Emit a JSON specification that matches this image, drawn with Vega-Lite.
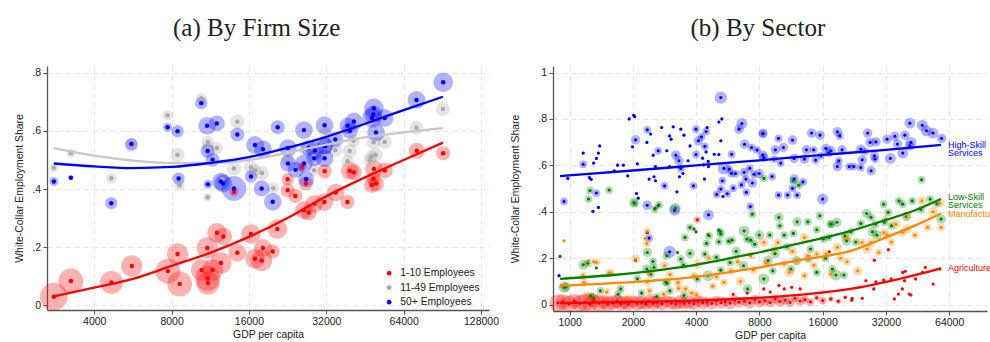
{
"$schema":"https://vega.github.io/schema/vega-lite/v6.json",
"padding":{"left":14,"top":16,"right":0,"bottom":0},
"config":{"view":{"stroke":null},"font":"Liberation Sans",
"axis":{"domainColor":"#555555","domainWidth":1.3,"tickColor":"#555555","tickSize":4,"labelFontSize":10.5,"labelColor":"#222222","titleFontSize":10.4,"titleFontWeight":"normal","titleColor":"#222222","gridColor":"#e4e4e4","gridDash":[5,4],"labelPadding":2.5},
"title":{"font":"Liberation Serif","fontSize":25,"fontWeight":"normal","color":"#222222","frame":"bounds","anchor":"middle","offset":25}},
"spacing":11,
"resolve":{"scale":{"color":"independent","size":"independent","x":"independent","y":"independent"},"legend":{"color":"independent","size":"independent"}},
"datasets":{
"a_pts":[
{"grp":"1-10 Employees","gdp":2785,"share":0.029,"wt":9.5},{"grp":"1-10 Employees","gdp":3245,"share":0.083,"wt":7.7},{"grp":"1-10 Employees","gdp":4670,"share":0.078,"wt":6.6},{"grp":"1-10 Employees","gdp":5600,"share":0.135,"wt":5.7},{"grp":"1-10 Employees","gdp":7740,"share":0.117,"wt":7.7},{"grp":"1-10 Employees","gdp":8440,"share":0.176,"wt":5.7},{"grp":"1-10 Employees","gdp":8600,"share":0.073,"wt":7.7},{"grp":"1-10 Employees","gdp":10470,"share":0.121,"wt":5.7},{"grp":"1-10 Employees","gdp":11020,"share":0.197,"wt":5.7},{"grp":"1-10 Employees","gdp":11550,"share":0.121,"wt":5.7},{"grp":"1-10 Employees","gdp":11050,"share":0.092,"wt":7.7},{"grp":"1-10 Employees","gdp":11080,"share":0.076,"wt":6.6},{"grp":"1-10 Employees","gdp":12010,"share":0.249,"wt":4.8},{"grp":"1-10 Employees","gdp":12720,"share":0.236,"wt":3.9},{"grp":"1-10 Employees","gdp":12450,"share":0.145,"wt":5.7},{"grp":"1-10 Employees","gdp":14420,"share":0.18,"wt":3.9},{"grp":"1-10 Employees","gdp":16290,"share":0.245,"wt":4.8},{"grp":"1-10 Employees","gdp":16890,"share":0.16,"wt":4.8},{"grp":"1-10 Employees","gdp":17930,"share":0.154,"wt":5.7},{"grp":"1-10 Employees","gdp":18140,"share":0.197,"wt":3.9},{"grp":"1-10 Employees","gdp":20640,"share":0.262,"wt":4.8},{"grp":"1-10 Employees","gdp":19790,"share":0.185,"wt":2.5},{"grp":"1-10 Employees","gdp":22640,"share":0.396,"wt":2.5},{"grp":"1-10 Employees","gdp":24250,"share":0.376,"wt":2.5},{"grp":"1-10 Employees","gdp":26200,"share":0.327,"wt":3.9},{"grp":"1-10 Employees","gdp":27320,"share":0.319,"wt":3.2},{"grp":"1-10 Employees","gdp":28760,"share":0.349,"wt":3.9},{"grp":"1-10 Employees","gdp":31450,"share":0.355,"wt":3.9},{"grp":"1-10 Employees","gdp":34820,"share":0.388,"wt":3.9},{"grp":"1-10 Employees","gdp":38680,"share":0.355,"wt":2.5},{"grp":"1-10 Employees","gdp":31540,"share":0.461,"wt":2.5},{"grp":"1-10 Employees","gdp":39470,"share":0.463,"wt":3.9},{"grp":"1-10 Employees","gdp":40900,"share":0.458,"wt":3.2},{"grp":"1-10 Employees","gdp":49070,"share":0.469,"wt":3.9},{"grp":"1-10 Employees","gdp":54030,"share":0.464,"wt":3.2},{"grp":"1-10 Employees","gdp":48800,"share":0.435,"wt":2.5},{"grp":"1-10 Employees","gdp":48200,"share":0.414,"wt":3.2},{"grp":"1-10 Employees","gdp":49960,"share":0.419,"wt":3.2},{"grp":"1-10 Employees","gdp":72000,"share":0.532,"wt":3.2},{"grp":"1-10 Employees","gdp":91200,"share":0.523,"wt":2.5},{"grp":"1-10 Employees","gdp":26680,"share":0.419,"wt":2.5},{"grp":"1-10 Employees","gdp":25800,"share":0.477,"wt":1.0},{"grp":"1-10 Employees","gdp":22640,"share":0.434,"wt":1.9},{"grp":"1-10 Employees","gdp":13990,"share":0.39,"wt":1.0},
{"grp":"11-49 Employees","gdp":2785,"share":0.473,"wt":1.0},{"grp":"11-49 Employees","gdp":3245,"share":0.523,"wt":1.0},{"grp":"11-49 Employees","gdp":4660,"share":0.437,"wt":1.4},{"grp":"11-49 Employees","gdp":5580,"share":0.55,"wt":2.5},{"grp":"11-49 Employees","gdp":7720,"share":0.654,"wt":1.4},{"grp":"11-49 Employees","gdp":8440,"share":0.518,"wt":2.5},{"grp":"11-49 Employees","gdp":8600,"share":0.413,"wt":1.4},{"grp":"11-49 Employees","gdp":10440,"share":0.713,"wt":1.4},{"grp":"11-49 Employees","gdp":11080,"share":0.562,"wt":1.9},{"grp":"11-49 Employees","gdp":11080,"share":0.543,"wt":1.9},{"grp":"11-49 Employees","gdp":12000,"share":0.541,"wt":1.9},{"grp":"11-49 Employees","gdp":11050,"share":0.372,"wt":1.0},{"grp":"11-49 Employees","gdp":14420,"share":0.632,"wt":2.5},{"grp":"11-49 Employees","gdp":13990,"share":0.471,"wt":2.5},{"grp":"11-49 Employees","gdp":16290,"share":0.474,"wt":2.5},{"grp":"11-49 Employees","gdp":16890,"share":0.465,"wt":1.9},{"grp":"11-49 Employees","gdp":18000,"share":0.455,"wt":2.5},{"grp":"11-49 Employees","gdp":12600,"share":0.434,"wt":1.9},{"grp":"11-49 Employees","gdp":91000,"share":0.676,"wt":2.5},{"grp":"11-49 Employees","gdp":71800,"share":0.611,"wt":2.5},{"grp":"11-49 Employees","gdp":48900,"share":0.561,"wt":2.5},{"grp":"11-49 Employees","gdp":49800,"share":0.518,"wt":2.5},{"grp":"11-49 Employees","gdp":47900,"share":0.512,"wt":1.9},{"grp":"11-49 Employees","gdp":54000,"share":0.562,"wt":2.5},{"grp":"11-49 Employees","gdp":47200,"share":0.499,"wt":1.9},{"grp":"11-49 Employees","gdp":40900,"share":0.566,"wt":1.9},{"grp":"11-49 Employees","gdp":39500,"share":0.531,"wt":2.5},{"grp":"11-49 Employees","gdp":38700,"share":0.496,"wt":1.9},{"grp":"11-49 Employees","gdp":31700,"share":0.593,"wt":1.9},{"grp":"11-49 Employees","gdp":34700,"share":0.534,"wt":2.5},{"grp":"11-49 Employees","gdp":28600,"share":0.513,"wt":1.9},{"grp":"11-49 Employees","gdp":26200,"share":0.537,"wt":1.9},{"grp":"11-49 Employees","gdp":22640,"share":0.503,"wt":1.9},{"grp":"11-49 Employees","gdp":19900,"share":0.403,"wt":1.9},{"grp":"11-49 Employees","gdp":28700,"share":0.465,"wt":1.9},
{"grp":"50+ Employees","gdp":2785,"share":0.426,"wt":1.0},{"grp":"50+ Employees","gdp":3245,"share":0.439,"wt":0.3},{"grp":"50+ Employees","gdp":4660,"share":0.351,"wt":1.9},{"grp":"50+ Employees","gdp":5580,"share":0.555,"wt":1.9},{"grp":"50+ Employees","gdp":7720,"share":0.613,"wt":1.0},{"grp":"50+ Employees","gdp":8440,"share":0.599,"wt":1.9},{"grp":"50+ Employees","gdp":8520,"share":0.436,"wt":1.9},{"grp":"50+ Employees","gdp":10440,"share":0.696,"wt":1.9},{"grp":"50+ Employees","gdp":11000,"share":0.618,"wt":3.9},{"grp":"50+ Employees","gdp":12000,"share":0.626,"wt":3.2},{"grp":"50+ Employees","gdp":11050,"share":0.531,"wt":2.5},{"grp":"50+ Employees","gdp":11550,"share":0.501,"wt":2.5},{"grp":"50+ Employees","gdp":11080,"share":0.416,"wt":1.0},{"grp":"50+ Employees","gdp":12450,"share":0.426,"wt":3.9},{"grp":"50+ Employees","gdp":12720,"share":0.419,"wt":3.9},{"grp":"50+ Employees","gdp":13990,"share":0.402,"wt":7.7},{"grp":"50+ Employees","gdp":14420,"share":0.588,"wt":2.5},{"grp":"50+ Employees","gdp":16290,"share":0.443,"wt":1.9},{"grp":"50+ Employees","gdp":16890,"share":0.552,"wt":3.9},{"grp":"50+ Employees","gdp":17930,"share":0.402,"wt":3.2},{"grp":"50+ Employees","gdp":18140,"share":0.537,"wt":3.9},{"grp":"50+ Employees","gdp":91200,"share":0.768,"wt":4.8},{"grp":"50+ Employees","gdp":71800,"share":0.707,"wt":3.9},{"grp":"50+ Employees","gdp":49000,"share":0.678,"wt":4.8},{"grp":"50+ Employees","gdp":48200,"share":0.645,"wt":4.8},{"grp":"50+ Employees","gdp":48800,"share":0.657,"wt":3.9},{"grp":"50+ Employees","gdp":54000,"share":0.645,"wt":3.9},{"grp":"50+ Employees","gdp":49960,"share":0.595,"wt":3.9},{"grp":"50+ Employees","gdp":41000,"share":0.633,"wt":3.9},{"grp":"50+ Employees","gdp":38700,"share":0.618,"wt":3.2},{"grp":"50+ Employees","gdp":39500,"share":0.601,"wt":3.2},{"grp":"50+ Employees","gdp":31500,"share":0.62,"wt":3.9},{"grp":"50+ Employees","gdp":34700,"share":0.571,"wt":3.2},{"grp":"50+ Employees","gdp":31400,"share":0.549,"wt":3.9},{"grp":"50+ Employees","gdp":31500,"share":0.506,"wt":3.9},{"grp":"50+ Employees","gdp":26200,"share":0.603,"wt":3.9},{"grp":"50+ Employees","gdp":20700,"share":0.613,"wt":2.5},{"grp":"50+ Employees","gdp":22700,"share":0.541,"wt":3.9},{"grp":"50+ Employees","gdp":27300,"share":0.541,"wt":3.2},{"grp":"50+ Employees","gdp":28900,"share":0.533,"wt":3.9},{"grp":"50+ Employees","gdp":31700,"share":0.547,"wt":3.2},{"grp":"50+ Employees","gdp":22700,"share":0.488,"wt":3.2},{"grp":"50+ Employees","gdp":24300,"share":0.466,"wt":3.2},{"grp":"50+ Employees","gdp":26200,"share":0.488,"wt":3.9},{"grp":"50+ Employees","gdp":28700,"share":0.506,"wt":3.2},{"grp":"50+ Employees","gdp":26700,"share":0.434,"wt":3.2},{"grp":"50+ Employees","gdp":19800,"share":0.356,"wt":3.9}
],
"a_fit":[
{"grp":"1-10 Employees","gdp":2785,"share":0.03},{"grp":"1-10 Employees","gdp":4000,"share":0.06},{"grp":"1-10 Employees","gdp":5660,"share":0.09},{"grp":"1-10 Employees","gdp":8000,"share":0.135},{"grp":"1-10 Employees","gdp":11300,"share":0.18},{"grp":"1-10 Employees","gdp":16000,"share":0.235},{"grp":"1-10 Employees","gdp":22600,"share":0.3},{"grp":"1-10 Employees","gdp":32000,"share":0.375},{"grp":"1-10 Employees","gdp":45250,"share":0.44},{"grp":"1-10 Employees","gdp":64000,"share":0.5},{"grp":"1-10 Employees","gdp":91000,"share":0.56},
{"grp":"11-49 Employees","gdp":2785,"share":0.541},{"grp":"11-49 Employees","gdp":4000,"share":0.515},{"grp":"11-49 Employees","gdp":5660,"share":0.498},{"grp":"11-49 Employees","gdp":8000,"share":0.49},{"grp":"11-49 Employees","gdp":11300,"share":0.49},{"grp":"11-49 Employees","gdp":16000,"share":0.5},{"grp":"11-49 Employees","gdp":22600,"share":0.525},{"grp":"11-49 Employees","gdp":32000,"share":0.553},{"grp":"11-49 Employees","gdp":45250,"share":0.578},{"grp":"11-49 Employees","gdp":64000,"share":0.595},{"grp":"11-49 Employees","gdp":91000,"share":0.61},
{"grp":"50+ Employees","gdp":2785,"share":0.488},{"grp":"50+ Employees","gdp":4000,"share":0.478},{"grp":"50+ Employees","gdp":5660,"share":0.472},{"grp":"50+ Employees","gdp":8000,"share":0.476},{"grp":"50+ Employees","gdp":11300,"share":0.49},{"grp":"50+ Employees","gdp":16000,"share":0.51},{"grp":"50+ Employees","gdp":22600,"share":0.542},{"grp":"50+ Employees","gdp":32000,"share":0.58},{"grp":"50+ Employees","gdp":45250,"share":0.625},{"grp":"50+ Employees","gdp":64000,"share":0.672},{"grp":"50+ Employees","gdp":91000,"share":0.718}
],
"b_pts":[
{"sec":"High-Skill Services","gdp":5240,"share":0.892,"wt":5},{"sec":"High-Skill Services","gdp":2015,"share":0.816,"wt":0.3},{"sec":"High-Skill Services","gdp":1920,"share":0.8,"wt":0.3},{"sec":"High-Skill Services","gdp":2040,"share":0.81,"wt":0.3},{"sec":"High-Skill Services","gdp":5300,"share":0.8,"wt":0.3},{"sec":"High-Skill Services","gdp":5130,"share":0.787,"wt":0.3},{"sec":"High-Skill Services","gdp":6600,"share":0.78,"wt":4},{"sec":"High-Skill Services","gdp":6400,"share":0.756,"wt":3},{"sec":"High-Skill Services","gdp":2340,"share":0.753,"wt":2},{"sec":"High-Skill Services","gdp":2740,"share":0.763,"wt":0.3},{"sec":"High-Skill Services","gdp":3110,"share":0.766,"wt":0.3},{"sec":"High-Skill Services","gdp":3380,"share":0.756,"wt":0.3},{"sec":"High-Skill Services","gdp":3990,"share":0.756,"wt":2},{"sec":"High-Skill Services","gdp":4510,"share":0.763,"wt":0.3},{"sec":"High-Skill Services","gdp":4460,"share":0.746,"wt":2},{"sec":"High-Skill Services","gdp":8300,"share":0.737,"wt":2},{"sec":"High-Skill Services","gdp":2060,"share":0.71,"wt":3},{"sec":"High-Skill Services","gdp":2330,"share":0.699,"wt":0.3},{"sec":"High-Skill Services","gdp":2430,"share":0.735,"wt":0.3},{"sec":"High-Skill Services","gdp":2990,"share":0.727,"wt":0.3},{"sec":"High-Skill Services","gdp":3040,"share":0.713,"wt":0.3},{"sec":"High-Skill Services","gdp":3500,"share":0.73,"wt":0.3},{"sec":"High-Skill Services","gdp":4100,"share":0.706,"wt":3},{"sec":"High-Skill Services","gdp":3740,"share":0.684,"wt":0.3},{"sec":"High-Skill Services","gdp":4240,"share":0.723,"wt":2},{"sec":"High-Skill Services","gdp":4400,"share":0.682,"wt":2},{"sec":"High-Skill Services","gdp":4460,"share":0.658,"wt":0.3},{"sec":"High-Skill Services","gdp":3990,"share":0.647,"wt":2},{"sec":"High-Skill Services","gdp":5240,"share":0.706,"wt":0.3},{"sec":"High-Skill Services","gdp":6800,"share":0.691,"wt":3},{"sec":"High-Skill Services","gdp":7340,"share":0.677,"wt":2},{"sec":"High-Skill Services","gdp":7800,"share":0.666,"wt":2},{"sec":"High-Skill Services","gdp":8300,"share":0.644,"wt":3},{"sec":"High-Skill Services","gdp":5900,"share":0.648,"wt":2},{"sec":"High-Skill Services","gdp":5130,"share":0.647,"wt":0.3},{"sec":"High-Skill Services","gdp":4880,"share":0.648,"wt":0.3},{"sec":"High-Skill Services","gdp":1390,"share":0.684,"wt":0.3},{"sec":"High-Skill Services","gdp":1370,"share":0.653,"wt":0.3},{"sec":"High-Skill Services","gdp":1160,"share":0.653,"wt":0.3},{"sec":"High-Skill Services","gdp":1340,"share":0.63,"wt":0.3},{"sec":"High-Skill Services","gdp":1300,"share":0.61,"wt":0.3},{"sec":"High-Skill Services","gdp":1160,"share":0.605,"wt":2},{"sec":"High-Skill Services","gdp":2100,"share":0.607,"wt":0.3},{"sec":"High-Skill Services","gdp":1990,"share":0.68,"wt":0.3},{"sec":"High-Skill Services","gdp":2500,"share":0.644,"wt":0.3},{"sec":"High-Skill Services","gdp":2640,"share":0.663,"wt":2},{"sec":"High-Skill Services","gdp":2900,"share":0.663,"wt":0.3},{"sec":"High-Skill Services","gdp":3200,"share":0.644,"wt":3},{"sec":"High-Skill Services","gdp":3310,"share":0.62,"wt":3},{"sec":"High-Skill Services","gdp":3660,"share":0.62,"wt":0.3},{"sec":"High-Skill Services","gdp":4290,"share":0.631,"wt":0.3},{"sec":"High-Skill Services","gdp":4560,"share":0.617,"wt":0.3},{"sec":"High-Skill Services","gdp":1690,"share":0.601,"wt":0.3},{"sec":"High-Skill Services","gdp":1800,"share":0.601,"wt":0.3},{"sec":"High-Skill Services","gdp":1630,"share":0.577,"wt":0.3},{"sec":"High-Skill Services","gdp":2560,"share":0.595,"wt":0.3},{"sec":"High-Skill Services","gdp":2990,"share":0.595,"wt":0.3},{"sec":"High-Skill Services","gdp":3380,"share":0.587,"wt":2},{"sec":"High-Skill Services","gdp":3460,"share":0.565,"wt":0.3},{"sec":"High-Skill Services","gdp":3330,"share":0.551,"wt":0.3},{"sec":"High-Skill Services","gdp":4340,"share":0.602,"wt":0.3},{"sec":"High-Skill Services","gdp":4580,"share":0.595,"wt":0.3},{"sec":"High-Skill Services","gdp":4380,"share":0.541,"wt":0.3},{"sec":"High-Skill Services","gdp":5420,"share":0.587,"wt":5},{"sec":"High-Skill Services","gdp":5750,"share":0.584,"wt":2},{"sec":"High-Skill Services","gdp":5880,"share":0.565,"wt":2},{"sec":"High-Skill Services","gdp":6160,"share":0.565,"wt":2},{"sec":"High-Skill Services","gdp":6770,"share":0.57,"wt":3},{"sec":"High-Skill Services","gdp":7200,"share":0.587,"wt":2},{"sec":"High-Skill Services","gdp":7540,"share":0.562,"wt":2},{"sec":"High-Skill Services","gdp":7980,"share":0.565,"wt":3},{"sec":"High-Skill Services","gdp":5330,"share":0.534,"wt":2},{"sec":"High-Skill Services","gdp":6900,"share":0.541,"wt":2},{"sec":"High-Skill Services","gdp":7410,"share":0.524,"wt":3},{"sec":"High-Skill Services","gdp":6010,"share":0.502,"wt":2},{"sec":"High-Skill Services","gdp":6570,"share":0.516,"wt":2},{"sec":"High-Skill Services","gdp":5240,"share":0.498,"wt":2},{"sec":"High-Skill Services","gdp":5620,"share":0.478,"wt":2},{"sec":"High-Skill Services","gdp":5010,"share":0.475,"wt":2},{"sec":"High-Skill Services","gdp":5360,"share":0.466,"wt":0.3},{"sec":"High-Skill Services","gdp":6930,"share":0.484,"wt":2},{"sec":"High-Skill Services","gdp":3880,"share":0.512,"wt":2},{"sec":"High-Skill Services","gdp":2830,"share":0.512,"wt":2},{"sec":"High-Skill Services","gdp":3240,"share":0.486,"wt":0.3},{"sec":"High-Skill Services","gdp":2520,"share":0.551,"wt":0.3},{"sec":"High-Skill Services","gdp":2390,"share":0.541,"wt":0.3},{"sec":"High-Skill Services","gdp":2560,"share":0.534,"wt":0.3},{"sec":"High-Skill Services","gdp":1890,"share":0.555,"wt":0.3},{"sec":"High-Skill Services","gdp":1240,"share":0.548,"wt":0.3},{"sec":"High-Skill Services","gdp":1265,"share":0.54,"wt":0.3},{"sec":"High-Skill Services","gdp":980,"share":0.544,"wt":0.3},{"sec":"High-Skill Services","gdp":940,"share":0.445,"wt":2},{"sec":"High-Skill Services","gdp":1340,"share":0.481,"wt":2},{"sec":"High-Skill Services","gdp":2080,"share":0.479,"wt":0.3},{"sec":"High-Skill Services","gdp":2120,"share":0.459,"wt":0.3},{"sec":"High-Skill Services","gdp":2340,"share":0.428,"wt":3},{"sec":"High-Skill Services","gdp":1370,"share":0.419,"wt":0.3},{"sec":"High-Skill Services","gdp":1290,"share":0.402,"wt":0.3},{"sec":"High-Skill Services","gdp":7240,"share":0.423,"wt":2},{"sec":"High-Skill Services","gdp":4580,"share":0.387,"wt":4},{"sec":"High-Skill Services","gdp":3160,"share":0.407,"wt":4},{"sec":"High-Skill Services","gdp":2990,"share":0.228,"wt":5},{"sec":"High-Skill Services","gdp":2340,"share":0.311,"wt":0.3},{"sec":"High-Skill Services","gdp":2390,"share":0.287,"wt":2},{"sec":"High-Skill Services","gdp":890,"share":0.125,"wt":0.3},{"sec":"High-Skill Services","gdp":8320,"share":0.737,"wt":3},{"sec":"High-Skill Services","gdp":9860,"share":0.716,"wt":2},{"sec":"High-Skill Services","gdp":11500,"share":0.709,"wt":3},{"sec":"High-Skill Services","gdp":14170,"share":0.739,"wt":3},{"sec":"High-Skill Services","gdp":15550,"share":0.73,"wt":3},{"sec":"High-Skill Services","gdp":18800,"share":0.745,"wt":3},{"sec":"High-Skill Services","gdp":19300,"share":0.727,"wt":2},{"sec":"High-Skill Services","gdp":26200,"share":0.739,"wt":3},{"sec":"High-Skill Services","gdp":26900,"share":0.699,"wt":3},{"sec":"High-Skill Services","gdp":28700,"share":0.701,"wt":3},{"sec":"High-Skill Services","gdp":32400,"share":0.713,"wt":3},{"sec":"High-Skill Services","gdp":35300,"share":0.725,"wt":3},{"sec":"High-Skill Services","gdp":36300,"share":0.692,"wt":3},{"sec":"High-Skill Services","gdp":39400,"share":0.73,"wt":3},{"sec":"High-Skill Services","gdp":41600,"share":0.782,"wt":4},{"sec":"High-Skill Services","gdp":47700,"share":0.773,"wt":4},{"sec":"High-Skill Services","gdp":49900,"share":0.749,"wt":4},{"sec":"High-Skill Services","gdp":53600,"share":0.739,"wt":4},{"sec":"High-Skill Services","gdp":58900,"share":0.716,"wt":3},{"sec":"High-Skill Services","gdp":42100,"share":0.699,"wt":4},{"sec":"High-Skill Services","gdp":41600,"share":0.684,"wt":3},{"sec":"High-Skill Services","gdp":9530,"share":0.667,"wt":3},{"sec":"High-Skill Services","gdp":10400,"share":0.677,"wt":3},{"sec":"High-Skill Services","gdp":13400,"share":0.667,"wt":3},{"sec":"High-Skill Services","gdp":14500,"share":0.667,"wt":2},{"sec":"High-Skill Services","gdp":16570,"share":0.673,"wt":3},{"sec":"High-Skill Services","gdp":17520,"share":0.663,"wt":3},{"sec":"High-Skill Services","gdp":19800,"share":0.667,"wt":3},{"sec":"High-Skill Services","gdp":24300,"share":0.67,"wt":3},{"sec":"High-Skill Services","gdp":25500,"share":0.66,"wt":2},{"sec":"High-Skill Services","gdp":28200,"share":0.641,"wt":3},{"sec":"High-Skill Services","gdp":33600,"share":0.63,"wt":4},{"sec":"High-Skill Services","gdp":38500,"share":0.653,"wt":4},{"sec":"High-Skill Services","gdp":8400,"share":0.634,"wt":3},{"sec":"High-Skill Services","gdp":9400,"share":0.627,"wt":2},{"sec":"High-Skill Services","gdp":10100,"share":0.61,"wt":2},{"sec":"High-Skill Services","gdp":11700,"share":0.63,"wt":3},{"sec":"High-Skill Services","gdp":13100,"share":0.627,"wt":3},{"sec":"High-Skill Services","gdp":14800,"share":0.623,"wt":2},{"sec":"High-Skill Services","gdp":15700,"share":0.641,"wt":2},{"sec":"High-Skill Services","gdp":17100,"share":0.653,"wt":2},{"sec":"High-Skill Services","gdp":19100,"share":0.62,"wt":2},{"sec":"High-Skill Services","gdp":21400,"share":0.595,"wt":2},{"sec":"High-Skill Services","gdp":22500,"share":0.595,"wt":2},{"sec":"High-Skill Services","gdp":24300,"share":0.591,"wt":2},{"sec":"High-Skill Services","gdp":24700,"share":0.624,"wt":3},{"sec":"High-Skill Services","gdp":27200,"share":0.577,"wt":3},{"sec":"High-Skill Services","gdp":28400,"share":0.627,"wt":2},{"sec":"High-Skill Services","gdp":18800,"share":0.595,"wt":3},{"sec":"High-Skill Services","gdp":9200,"share":0.552,"wt":2},{"sec":"High-Skill Services","gdp":11700,"share":0.541,"wt":3},{"sec":"High-Skill Services","gdp":12900,"share":0.529,"wt":2},{"sec":"High-Skill Services","gdp":11500,"share":0.501,"wt":2},{"sec":"High-Skill Services","gdp":10900,"share":0.472,"wt":2},{"sec":"High-Skill Services","gdp":9860,"share":0.472,"wt":2},{"sec":"High-Skill Services","gdp":12100,"share":0.472,"wt":2},{"sec":"High-Skill Services","gdp":16000,"share":0.455,"wt":4},
{"sec":"Low-Skill Services","gdp":900,"share":0.208,"wt":0.3},{"sec":"Low-Skill Services","gdp":940,"share":0.075,"wt":4},{"sec":"Low-Skill Services","gdp":1160,"share":0.172,"wt":3},{"sec":"Low-Skill Services","gdp":1340,"share":0.158,"wt":0.3},{"sec":"Low-Skill Services","gdp":2020,"share":0.44,"wt":3},{"sec":"Low-Skill Services","gdp":2340,"share":0.225,"wt":3},{"sec":"Low-Skill Services","gdp":2060,"share":0.192,"wt":0.3},{"sec":"Low-Skill Services","gdp":2520,"share":0.161,"wt":2},{"sec":"Low-Skill Services","gdp":2640,"share":0.426,"wt":0.3},{"sec":"Low-Skill Services","gdp":2550,"share":0.415,"wt":0.3},{"sec":"Low-Skill Services","gdp":3180,"share":0.415,"wt":4},{"sec":"Low-Skill Services","gdp":3260,"share":0.225,"wt":0.3},{"sec":"Low-Skill Services","gdp":3740,"share":0.221,"wt":3},{"sec":"Low-Skill Services","gdp":3910,"share":0.326,"wt":0.3},{"sec":"Low-Skill Services","gdp":3990,"share":0.314,"wt":0.3},{"sec":"Low-Skill Services","gdp":4560,"share":0.301,"wt":0.3},{"sec":"Low-Skill Services","gdp":5130,"share":0.321,"wt":0.3},{"sec":"Low-Skill Services","gdp":5240,"share":0.304,"wt":2},{"sec":"Low-Skill Services","gdp":5930,"share":0.278,"wt":2},{"sec":"Low-Skill Services","gdp":6770,"share":0.318,"wt":4},{"sec":"Low-Skill Services","gdp":6970,"share":0.283,"wt":2},{"sec":"Low-Skill Services","gdp":7280,"share":0.278,"wt":2},{"sec":"Low-Skill Services","gdp":7980,"share":0.3,"wt":3},{"sec":"Low-Skill Services","gdp":8960,"share":0.3,"wt":2},{"sec":"Low-Skill Services","gdp":9900,"share":0.376,"wt":3},{"sec":"Low-Skill Services","gdp":10010,"share":0.34,"wt":2},{"sec":"Low-Skill Services","gdp":10500,"share":0.3,"wt":2},{"sec":"Low-Skill Services","gdp":11600,"share":0.307,"wt":2},{"sec":"Low-Skill Services","gdp":12100,"share":0.357,"wt":3},{"sec":"Low-Skill Services","gdp":13600,"share":0.357,"wt":2},{"sec":"Low-Skill Services","gdp":15000,"share":0.323,"wt":2},{"sec":"Low-Skill Services","gdp":16120,"share":0.283,"wt":2},{"sec":"Low-Skill Services","gdp":17100,"share":0.29,"wt":2},{"sec":"Low-Skill Services","gdp":17520,"share":0.347,"wt":2},{"sec":"Low-Skill Services","gdp":18700,"share":0.355,"wt":3},{"sec":"Low-Skill Services","gdp":20400,"share":0.297,"wt":2},{"sec":"Low-Skill Services","gdp":20800,"share":0.275,"wt":3},{"sec":"Low-Skill Services","gdp":21800,"share":0.314,"wt":2},{"sec":"Low-Skill Services","gdp":24300,"share":0.35,"wt":2},{"sec":"Low-Skill Services","gdp":25900,"share":0.393,"wt":3},{"sec":"Low-Skill Services","gdp":27600,"share":0.314,"wt":3},{"sec":"Low-Skill Services","gdp":28500,"share":0.347,"wt":2},{"sec":"Low-Skill Services","gdp":27200,"share":0.376,"wt":2},{"sec":"Low-Skill Services","gdp":31200,"share":0.433,"wt":2},{"sec":"Low-Skill Services","gdp":31500,"share":0.355,"wt":2},{"sec":"Low-Skill Services","gdp":32800,"share":0.398,"wt":2},{"sec":"Low-Skill Services","gdp":36900,"share":0.447,"wt":2},{"sec":"Low-Skill Services","gdp":38500,"share":0.433,"wt":2},{"sec":"Low-Skill Services","gdp":42700,"share":0.447,"wt":2},{"sec":"Low-Skill Services","gdp":58600,"share":0.369,"wt":3},{"sec":"Low-Skill Services","gdp":56000,"share":0.435,"wt":2},{"sec":"Low-Skill Services","gdp":8400,"share":0.111,"wt":4},{"sec":"Low-Skill Services","gdp":9260,"share":0.146,"wt":2},{"sec":"Low-Skill Services","gdp":11300,"share":0.154,"wt":2},{"sec":"Low-Skill Services","gdp":13700,"share":0.197,"wt":2},{"sec":"Low-Skill Services","gdp":15000,"share":0.139,"wt":2},{"sec":"Low-Skill Services","gdp":17800,"share":0.154,"wt":2},{"sec":"Low-Skill Services","gdp":18500,"share":0.128,"wt":4},{"sec":"Low-Skill Services","gdp":20200,"share":0.128,"wt":2},{"sec":"Low-Skill Services","gdp":7030,"share":0.068,"wt":3},{"sec":"Low-Skill Services","gdp":4050,"share":0.111,"wt":2},{"sec":"Low-Skill Services","gdp":4560,"share":0.125,"wt":4},{"sec":"Low-Skill Services","gdp":5240,"share":0.149,"wt":2},{"sec":"Low-Skill Services","gdp":5800,"share":0.182,"wt":2},{"sec":"Low-Skill Services","gdp":6720,"share":0.168,"wt":3},{"sec":"Low-Skill Services","gdp":4990,"share":0.204,"wt":2},{"sec":"Low-Skill Services","gdp":4400,"share":0.218,"wt":2},{"sec":"Low-Skill Services","gdp":4480,"share":0.264,"wt":2},{"sec":"Low-Skill Services","gdp":3380,"share":0.197,"wt":2},{"sec":"Low-Skill Services","gdp":2870,"share":0.099,"wt":2},{"sec":"Low-Skill Services","gdp":2430,"share":0.132,"wt":2},{"sec":"Low-Skill Services","gdp":2100,"share":0.111,"wt":2},{"sec":"Low-Skill Services","gdp":1750,"share":0.068,"wt":2},{"sec":"Low-Skill Services","gdp":1400,"share":0.06,"wt":2},{"sec":"Low-Skill Services","gdp":1260,"share":0.039,"wt":2},{"sec":"Low-Skill Services","gdp":960,"share":0.077,"wt":3},{"sec":"Low-Skill Services","gdp":1220,"share":0.179,"wt":2},{"sec":"Low-Skill Services","gdp":1250,"share":0.492,"wt":2},{"sec":"Low-Skill Services","gdp":1230,"share":0.455,"wt":2},{"sec":"Low-Skill Services","gdp":1540,"share":0.494,"wt":2},{"sec":"Low-Skill Services","gdp":2040,"share":0.436,"wt":2},{"sec":"Low-Skill Services","gdp":2540,"share":0.412,"wt":2},{"sec":"Low-Skill Services","gdp":2660,"share":0.43,"wt":2},{"sec":"Low-Skill Services","gdp":3540,"share":0.29,"wt":2},{"sec":"Low-Skill Services","gdp":3740,"share":0.333,"wt":2},{"sec":"Low-Skill Services","gdp":4610,"share":0.297,"wt":2},{"sec":"Low-Skill Services","gdp":5200,"share":0.316,"wt":2},{"sec":"Low-Skill Services","gdp":5700,"share":0.273,"wt":2},{"sec":"Low-Skill Services","gdp":5130,"share":0.271,"wt":2},{"sec":"Low-Skill Services","gdp":2490,"share":0.187,"wt":2},{"sec":"Low-Skill Services","gdp":2900,"share":0.211,"wt":2},{"sec":"Low-Skill Services","gdp":2330,"share":0.154,"wt":3},{"sec":"Low-Skill Services","gdp":3480,"share":0.171,"wt":2},{"sec":"Low-Skill Services","gdp":2900,"share":0.093,"wt":2},{"sec":"Low-Skill Services","gdp":1300,"share":0.03,"wt":2},{"sec":"Low-Skill Services","gdp":1700,"share":0.045,"wt":2},{"sec":"Low-Skill Services","gdp":2200,"share":0.05,"wt":2},{"sec":"Low-Skill Services","gdp":2600,"share":0.035,"wt":2},{"sec":"Low-Skill Services","gdp":3000,"share":0.06,"wt":2},{"sec":"Low-Skill Services","gdp":3500,"share":0.04,"wt":2},{"sec":"Low-Skill Services","gdp":9500,"share":0.22,"wt":3},{"sec":"Low-Skill Services","gdp":10800,"share":0.25,"wt":2},{"sec":"Low-Skill Services","gdp":14000,"share":0.24,"wt":2},{"sec":"Low-Skill Services","gdp":12000,"share":0.19,"wt":3},{"sec":"Low-Skill Services","gdp":16500,"share":0.2,"wt":2},{"sec":"Low-Skill Services","gdp":6200,"share":0.23,"wt":3},{"sec":"Low-Skill Services","gdp":7600,"share":0.26,"wt":2},{"sec":"Low-Skill Services","gdp":8800,"share":0.19,"wt":3},{"sec":"Low-Skill Services","gdp":23000,"share":0.27,"wt":2},{"sec":"Low-Skill Services","gdp":29000,"share":0.3,"wt":3},{"sec":"Low-Skill Services","gdp":34000,"share":0.34,"wt":2},{"sec":"Low-Skill Services","gdp":40000,"share":0.38,"wt":3},{"sec":"Low-Skill Services","gdp":47000,"share":0.41,"wt":2},{"sec":"Low-Skill Services","gdp":52000,"share":0.455,"wt":2},{"sec":"Low-Skill Services","gdp":47300,"share":0.538,"wt":2},{"sec":"Low-Skill Services","gdp":8400,"share":0.544,"wt":2},{"sec":"Low-Skill Services","gdp":11600,"share":0.534,"wt":2},{"sec":"Low-Skill Services","gdp":12300,"share":0.515,"wt":2},{"sec":"Low-Skill Services","gdp":7400,"share":0.39,"wt":2},{"sec":"Low-Skill Services","gdp":15500,"share":0.383,"wt":2},{"sec":"Low-Skill Services","gdp":17500,"share":0.347,"wt":2},
{"sec":"Manufacturing","gdp":940,"share":0.275,"wt":0.3},{"sec":"Manufacturing","gdp":910,"share":0.079,"wt":0.3},{"sec":"Manufacturing","gdp":1160,"share":0.125,"wt":2},{"sec":"Manufacturing","gdp":1230,"share":0.189,"wt":0.3},{"sec":"Manufacturing","gdp":1340,"share":0.182,"wt":2},{"sec":"Manufacturing","gdp":1570,"share":0.135,"wt":2},{"sec":"Manufacturing","gdp":2060,"share":0.197,"wt":3},{"sec":"Manufacturing","gdp":2340,"share":0.316,"wt":2},{"sec":"Manufacturing","gdp":2330,"share":0.264,"wt":2},{"sec":"Manufacturing","gdp":2830,"share":0.168,"wt":3},{"sec":"Manufacturing","gdp":2410,"share":0.139,"wt":2},{"sec":"Manufacturing","gdp":3280,"share":0.096,"wt":2},{"sec":"Manufacturing","gdp":3560,"share":0.068,"wt":2},{"sec":"Manufacturing","gdp":4020,"share":0.043,"wt":2},{"sec":"Manufacturing","gdp":1300,"share":0.185,"wt":0.3},{"sec":"Manufacturing","gdp":1170,"share":0.096,"wt":2},{"sec":"Manufacturing","gdp":1540,"share":0.136,"wt":2},{"sec":"Manufacturing","gdp":2290,"share":0.286,"wt":0.3},{"sec":"Manufacturing","gdp":2340,"share":0.099,"wt":2},{"sec":"Manufacturing","gdp":4050,"share":0.175,"wt":3},{"sec":"Manufacturing","gdp":3910,"share":0.125,"wt":2},{"sec":"Manufacturing","gdp":5850,"share":0.146,"wt":2},{"sec":"Manufacturing","gdp":5420,"share":0.096,"wt":2},{"sec":"Manufacturing","gdp":6300,"share":0.185,"wt":2},{"sec":"Manufacturing","gdp":7280,"share":0.211,"wt":2},{"sec":"Manufacturing","gdp":8400,"share":0.268,"wt":3},{"sec":"Manufacturing","gdp":9400,"share":0.24,"wt":2},{"sec":"Manufacturing","gdp":10500,"share":0.175,"wt":2},{"sec":"Manufacturing","gdp":11100,"share":0.139,"wt":3},{"sec":"Manufacturing","gdp":13100,"share":0.29,"wt":3},{"sec":"Manufacturing","gdp":13600,"share":0.211,"wt":2},{"sec":"Manufacturing","gdp":15000,"share":0.218,"wt":2},{"sec":"Manufacturing","gdp":16600,"share":0.218,"wt":2},{"sec":"Manufacturing","gdp":18800,"share":0.247,"wt":3},{"sec":"Manufacturing","gdp":17500,"share":0.132,"wt":2},{"sec":"Manufacturing","gdp":20900,"share":0.286,"wt":2},{"sec":"Manufacturing","gdp":23500,"share":0.146,"wt":3},{"sec":"Manufacturing","gdp":24600,"share":0.268,"wt":2},{"sec":"Manufacturing","gdp":27200,"share":0.268,"wt":3},{"sec":"Manufacturing","gdp":29600,"share":0.225,"wt":2},{"sec":"Manufacturing","gdp":31200,"share":0.311,"wt":2},{"sec":"Manufacturing","gdp":32500,"share":0.3,"wt":2},{"sec":"Manufacturing","gdp":35700,"share":0.347,"wt":3},{"sec":"Manufacturing","gdp":38500,"share":0.311,"wt":2},{"sec":"Manufacturing","gdp":40400,"share":0.326,"wt":3},{"sec":"Manufacturing","gdp":50500,"share":0.333,"wt":2},{"sec":"Manufacturing","gdp":57800,"share":0.438,"wt":3},{"sec":"Manufacturing","gdp":58600,"share":0.333,"wt":2},{"sec":"Manufacturing","gdp":32000,"share":0.369,"wt":2},{"sec":"Manufacturing","gdp":40400,"share":0.383,"wt":2},{"sec":"Manufacturing","gdp":47500,"share":0.447,"wt":3},{"sec":"Manufacturing","gdp":20900,"share":0.185,"wt":2},{"sec":"Manufacturing","gdp":13100,"share":0.125,"wt":2},{"sec":"Manufacturing","gdp":9800,"share":0.268,"wt":2},{"sec":"Manufacturing","gdp":12100,"share":0.189,"wt":2},{"sec":"Manufacturing","gdp":53600,"share":0.4,"wt":3},{"sec":"Manufacturing","gdp":1200,"share":0.04,"wt":2},{"sec":"Manufacturing","gdp":1500,"share":0.055,"wt":2},{"sec":"Manufacturing","gdp":1900,"share":0.03,"wt":2},{"sec":"Manufacturing","gdp":2400,"share":0.06,"wt":2},{"sec":"Manufacturing","gdp":2800,"share":0.045,"wt":2},{"sec":"Manufacturing","gdp":3300,"share":0.07,"wt":2},{"sec":"Manufacturing","gdp":3800,"share":0.05,"wt":2},{"sec":"Manufacturing","gdp":4800,"share":0.08,"wt":2},{"sec":"Manufacturing","gdp":6500,"share":0.1,"wt":3},{"sec":"Manufacturing","gdp":7500,"share":0.15,"wt":2},{"sec":"Manufacturing","gdp":5000,"share":0.12,"wt":2},{"sec":"Manufacturing","gdp":3000,"share":0.13,"wt":2},{"sec":"Manufacturing","gdp":8600,"share":0.18,"wt":2},{"sec":"Manufacturing","gdp":11500,"share":0.23,"wt":3},{"sec":"Manufacturing","gdp":14500,"share":0.17,"wt":2},{"sec":"Manufacturing","gdp":19500,"share":0.2,"wt":2},{"sec":"Manufacturing","gdp":26000,"share":0.24,"wt":3},{"sec":"Manufacturing","gdp":34000,"share":0.27,"wt":2},{"sec":"Manufacturing","gdp":44000,"share":0.3,"wt":2},{"sec":"Manufacturing","gdp":4600,"share":0.2,"wt":2},
{"sec":"Agriculture","gdp":880,"share":0.008,"wt":10},{"sec":"Agriculture","gdp":930,"share":0.012,"wt":8},{"sec":"Agriculture","gdp":990,"share":0.004,"wt":10},{"sec":"Agriculture","gdp":1050,"share":0.015,"wt":7},{"sec":"Agriculture","gdp":1120,"share":0.006,"wt":9},{"sec":"Agriculture","gdp":1180,"share":0.01,"wt":10},{"sec":"Agriculture","gdp":1250,"share":0.003,"wt":8},{"sec":"Agriculture","gdp":1300,"share":0.018,"wt":7},{"sec":"Agriculture","gdp":1380,"share":0.007,"wt":9},{"sec":"Agriculture","gdp":1450,"share":0.012,"wt":6},{"sec":"Agriculture","gdp":1520,"share":0.004,"wt":8},{"sec":"Agriculture","gdp":1600,"share":0.009,"wt":7},{"sec":"Agriculture","gdp":1680,"share":0.015,"wt":6},{"sec":"Agriculture","gdp":1750,"share":0.005,"wt":7},{"sec":"Agriculture","gdp":1830,"share":0.01,"wt":6},{"sec":"Agriculture","gdp":1900,"share":0.003,"wt":6},{"sec":"Agriculture","gdp":2000,"share":0.013,"wt":5},{"sec":"Agriculture","gdp":2100,"share":0.006,"wt":7},{"sec":"Agriculture","gdp":2200,"share":0.009,"wt":6},{"sec":"Agriculture","gdp":2300,"share":0.004,"wt":5},{"sec":"Agriculture","gdp":2400,"share":0.016,"wt":6},{"sec":"Agriculture","gdp":2500,"share":0.007,"wt":7},{"sec":"Agriculture","gdp":2600,"share":0.011,"wt":5},{"sec":"Agriculture","gdp":2750,"share":0.005,"wt":6},{"sec":"Agriculture","gdp":2900,"share":0.014,"wt":5},{"sec":"Agriculture","gdp":3050,"share":0.008,"wt":6},{"sec":"Agriculture","gdp":3200,"share":0.004,"wt":5},{"sec":"Agriculture","gdp":3350,"share":0.012,"wt":6},{"sec":"Agriculture","gdp":3500,"share":0.007,"wt":5},{"sec":"Agriculture","gdp":3700,"share":0.01,"wt":6},{"sec":"Agriculture","gdp":3900,"share":0.005,"wt":5},{"sec":"Agriculture","gdp":4100,"share":0.015,"wt":4},{"sec":"Agriculture","gdp":4300,"share":0.008,"wt":6},{"sec":"Agriculture","gdp":4500,"share":0.012,"wt":3},{"sec":"Agriculture","gdp":4750,"share":0.006,"wt":5},{"sec":"Agriculture","gdp":5000,"share":0.018,"wt":3},{"sec":"Agriculture","gdp":5250,"share":0.009,"wt":5},{"sec":"Agriculture","gdp":5500,"share":0.013,"wt":3},{"sec":"Agriculture","gdp":5800,"share":0.007,"wt":5},{"sec":"Agriculture","gdp":6100,"share":0.02,"wt":3},{"sec":"Agriculture","gdp":6400,"share":0.011,"wt":4},{"sec":"Agriculture","gdp":6800,"share":0.015,"wt":3},{"sec":"Agriculture","gdp":7200,"share":0.008,"wt":4},{"sec":"Agriculture","gdp":7600,"share":0.022,"wt":3},{"sec":"Agriculture","gdp":8000,"share":0.012,"wt":4},{"sec":"Agriculture","gdp":8500,"share":0.017,"wt":3},{"sec":"Agriculture","gdp":9000,"share":0.009,"wt":3},{"sec":"Agriculture","gdp":9500,"share":0.025,"wt":3},{"sec":"Agriculture","gdp":10000,"share":0.014,"wt":4},{"sec":"Agriculture","gdp":10600,"share":0.02,"wt":3},{"sec":"Agriculture","gdp":11200,"share":0.01,"wt":3},{"sec":"Agriculture","gdp":11800,"share":0.028,"wt":2},{"sec":"Agriculture","gdp":12500,"share":0.016,"wt":3},{"sec":"Agriculture","gdp":13200,"share":0.022,"wt":2},{"sec":"Agriculture","gdp":14000,"share":0.012,"wt":2},{"sec":"Agriculture","gdp":15000,"share":0.03,"wt":1},{"sec":"Agriculture","gdp":16000,"share":0.018,"wt":2},{"sec":"Agriculture","gdp":17500,"share":0.025,"wt":1},{"sec":"Agriculture","gdp":19000,"share":0.015,"wt":1},{"sec":"Agriculture","gdp":20500,"share":0.032,"wt":0.5},{"sec":"Agriculture","gdp":22000,"share":0.02,"wt":0.5},{"sec":"Agriculture","gdp":8400,"share":0.068,"wt":0.3},{"sec":"Agriculture","gdp":9900,"share":0.083,"wt":0.3},{"sec":"Agriculture","gdp":10500,"share":0.068,"wt":0.3},{"sec":"Agriculture","gdp":11400,"share":0.075,"wt":0.3},{"sec":"Agriculture","gdp":12500,"share":0.068,"wt":0.3},{"sec":"Agriculture","gdp":7000,"share":0.05,"wt":0.3},{"sec":"Agriculture","gdp":6000,"share":0.045,"wt":0.3},{"sec":"Agriculture","gdp":9000,"share":0.055,"wt":0.3},{"sec":"Agriculture","gdp":4050,"share":0.366,"wt":1.5},{"sec":"Agriculture","gdp":17200,"share":0.228,"wt":0.3},{"sec":"Agriculture","gdp":22100,"share":0.028,"wt":0.3},{"sec":"Agriculture","gdp":25700,"share":0.103,"wt":0.3},{"sec":"Agriculture","gdp":28000,"share":0.068,"wt":0.3},{"sec":"Agriculture","gdp":31200,"share":0.106,"wt":0.3},{"sec":"Agriculture","gdp":33900,"share":0.111,"wt":0.3},{"sec":"Agriculture","gdp":35100,"share":0.025,"wt":0.3},{"sec":"Agriculture","gdp":36700,"share":0.046,"wt":0.3},{"sec":"Agriculture","gdp":38500,"share":0.139,"wt":0.3},{"sec":"Agriculture","gdp":39200,"share":0.103,"wt":0.3},{"sec":"Agriculture","gdp":41300,"share":0.046,"wt":0.3},{"sec":"Agriculture","gdp":44300,"share":0.111,"wt":0.3},{"sec":"Agriculture","gdp":49300,"share":0.161,"wt":0.3},{"sec":"Agriculture","gdp":53700,"share":0.089,"wt":0.3},{"sec":"Agriculture","gdp":57800,"share":0.154,"wt":0.3},{"sec":"Agriculture","gdp":28200,"share":0.192,"wt":0.3},{"sec":"Agriculture","gdp":32900,"share":0.237,"wt":0.3},{"sec":"Agriculture","gdp":39600,"share":0.144,"wt":0.3},{"sec":"Agriculture","gdp":47800,"share":0.139,"wt":0.3},{"sec":"Agriculture","gdp":31600,"share":0.099,"wt":0.3},{"sec":"Agriculture","gdp":38300,"share":0.068,"wt":0.3},{"sec":"Agriculture","gdp":42100,"share":0.042,"wt":0.3},{"sec":"Agriculture","gdp":24700,"share":0.028,"wt":0.3},{"sec":"Agriculture","gdp":28700,"share":0.099,"wt":0.3}
],
"b_fit":[
{"sec":"High-Skill Services","gdp":900,"share":0.554},{"sec":"High-Skill Services","gdp":2000,"share":0.578},{"sec":"High-Skill Services","gdp":4000,"share":0.6},{"sec":"High-Skill Services","gdp":8000,"share":0.622},{"sec":"High-Skill Services","gdp":16000,"share":0.645},{"sec":"High-Skill Services","gdp":32000,"share":0.667},{"sec":"High-Skill Services","gdp":58500,"share":0.688},
{"sec":"Low-Skill Services","gdp":900,"share":0.111},{"sec":"Low-Skill Services","gdp":1600,"share":0.128},{"sec":"Low-Skill Services","gdp":2430,"share":0.145},{"sec":"Low-Skill Services","gdp":4000,"share":0.172},{"sec":"Low-Skill Services","gdp":7280,"share":0.218},{"sec":"Low-Skill Services","gdp":13000,"share":0.268},{"sec":"Low-Skill Services","gdp":21800,"share":0.318},{"sec":"Low-Skill Services","gdp":32000,"share":0.365},{"sec":"Low-Skill Services","gdp":45000,"share":0.41},{"sec":"Low-Skill Services","gdp":58500,"share":0.455},
{"sec":"Manufacturing","gdp":900,"share":0.082},{"sec":"Manufacturing","gdp":2430,"share":0.103},{"sec":"Manufacturing","gdp":4000,"share":0.12},{"sec":"Manufacturing","gdp":7280,"share":0.154},{"sec":"Manufacturing","gdp":13000,"share":0.195},{"sec":"Manufacturing","gdp":21800,"share":0.232},{"sec":"Manufacturing","gdp":32000,"share":0.29},{"sec":"Manufacturing","gdp":45000,"share":0.345},{"sec":"Manufacturing","gdp":58500,"share":0.393},
{"sec":"Agriculture","gdp":900,"share":0.007},{"sec":"Agriculture","gdp":2430,"share":0.013},{"sec":"Agriculture","gdp":4000,"share":0.018},{"sec":"Agriculture","gdp":7280,"share":0.028},{"sec":"Agriculture","gdp":15000,"share":0.05},{"sec":"Agriculture","gdp":21800,"share":0.068},{"sec":"Agriculture","gdp":31300,"share":0.096},{"sec":"Agriculture","gdp":45000,"share":0.13},{"sec":"Agriculture","gdp":58500,"share":0.157}
],
"b_lab":[
{"sec":"High-Skill Services","label":"High-Skill\nServices","gdp":63200,"share":0.688},{"sec":"Low-Skill Services","label":"Low-Skill\nServices","gdp":63200,"share":0.466},{"sec":"Manufacturing","label":"Manufacturing","gdp":63200,"share":0.392},{"sec":"Agriculture","label":"Agriculture","gdp":63200,"share":0.157}
]
},
"hconcat":[
{
"width":442,"height":244,
"title":{"text":"(a) By Firm Size"},
"encoding":{
"x":{"field":"gdp","type":"quantitative","scale":{"type":"log","domain":[2620,137500],"nice":false},"axis":{"values":[4000,8000,16000,32000,64000,128000],"format":"d","title":"GDP per capita","titlePadding":2,"grid":true}},
"y":{"field":"share","type":"quantitative","scale":{"domain":[-0.017,0.824],"nice":false,"zero":false},"axis":{"values":[0,0.2,0.4,0.6,0.8],"labelExpr":"replace(format(datum.value,'~g'),'0.','.')","title":"White-Collar Employment Share","titlePadding":7,"grid":true}}
},
"layer":[
{"data":{"name":"a_pts"},"mark":{"type":"circle","opacity":0.3},"encoding":{"color":{"field":"grp","type":"nominal","scale":{"domain":["1-10 Employees","11-49 Employees","50+ Employees"],"range":["#ff0000","#aaaaaa","#0000ff"]},"legend":{"title":null,"orient":"none","legendX":337,"legendY":202,"symbolType":"circle","symbolSize":22,"symbolOpacity":1,"symbolStrokeWidth":0,"labelFontSize":10.3,"labelColor":"#222222","rowPadding":3.5,"labelOffset":6}},"size":{"field":"wt","type":"quantitative","scale":{"domain":[0,10],"range":[0,800]},"legend":null}}},
{"data":{"name":"a_pts"},"mark":{"type":"circle","opacity":1,"size":20},"encoding":{"color":{"field":"grp","type":"nominal"}}},
{"data":{"name":"a_fit"},"transform":[{"filter":"datum.grp == '1-10 Employees'"}],"mark":{"type":"line","color":"#ff0000","strokeWidth":2.3,"interpolate":"monotone"},"encoding":{}},
{"data":{"name":"a_fit"},"transform":[{"filter":"datum.grp == '11-49 Employees'"}],"mark":{"type":"line","color":"#c8c8c8","strokeWidth":2.3,"interpolate":"monotone"},"encoding":{}},
{"data":{"name":"a_fit"},"transform":[{"filter":"datum.grp == '50+ Employees'"}],"mark":{"type":"line","color":"#0000ff","strokeWidth":2.3,"interpolate":"monotone"},"encoding":{}}
]
},
{
"width":434,"height":245,
"title":{"text":"(b) By Sector"},
"encoding":{
"x":{"field":"gdp","type":"quantitative","scale":{"type":"log","domain":[833,96900],"nice":false},"axis":{"values":[1000,2000,4000,8000,16000,32000,64000],"format":"d","title":"GDP per capita","titlePadding":2,"grid":true}},
"y":{"field":"share","type":"quantitative","scale":{"domain":[-0.027,1.028],"nice":false,"zero":false},"axis":{"values":[0,0.2,0.4,0.6,0.8,1],"labelExpr":"replace(format(datum.value,'~g'),'0.','.')","title":"White-Collar Employment Share","titlePadding":17,"grid":true}},
"color":{"field":"sec","type":"nominal","scale":{"domain":["High-Skill Services","Low-Skill Services","Manufacturing","Agriculture"],"range":["#0000ff","#008000","#ff8800","#ff0000"]},"legend":null}
},
"layer":[
{"data":{"name":"b_pts"},"mark":{"type":"circle","opacity":0.3},"encoding":{"size":{"field":"wt","type":"quantitative","scale":{"domain":[0,10],"range":[0,300]},"legend":null}}},
{"data":{"name":"b_pts"},"mark":{"type":"circle","opacity":1,"size":10}},
{"data":{"name":"b_fit"},"mark":{"type":"line","strokeWidth":2.3,"interpolate":"monotone"}},
{"data":{"name":"b_lab"},"mark":{"type":"text","align":"left","baseline":"middle","fontSize":9,"lineHeight":8.5,"lineBreak":"\n"},"encoding":{"text":{"field":"label"}}}
]
}
]
}
